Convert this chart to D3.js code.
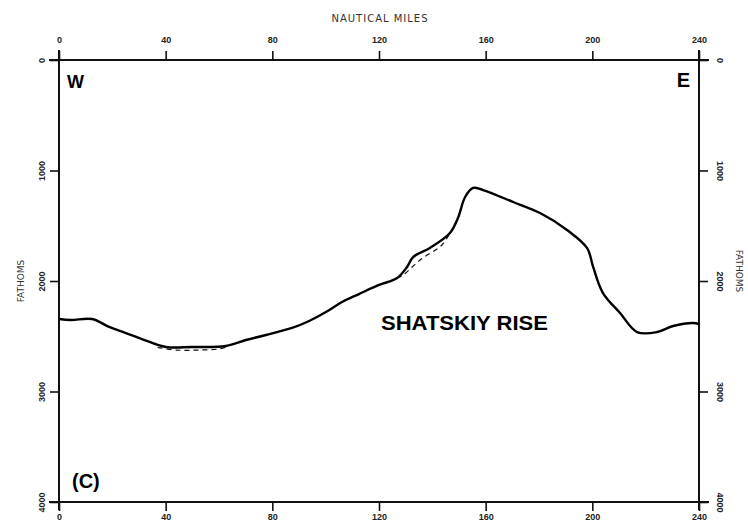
<!DOCTYPE html>
<html lang="en">

<head>
    <meta charset="UTF-8">
    <title>Shatskiy Rise profile</title>
    <style>
        body {
            margin: 0;
            padding: 0;
            background: #fff;
        }

        svg {
            display: block;
            font-family: 'DejaVu Sans', sans-serif;
        }
    </style>
</head>

<body>
    <script src="https://d3js.org/d3.v7.min.js"></script>
    <script>
        // distance along track (nautical miles) and depth (fathoms)
        const distance = [0, 4.5, 12.4, 18.8, 25.1, 31.1, 40.1, 49.9, 62.6, 70.1, 77.6, 87.4, 93.8, 100.1,
            106.1, 112.5, 120, 126.8, 130.5, 132.8, 139.1, 146.6, 149.6, 152.3, 155.3, 159, 170.3,
            180.4, 190.5, 198, 200.3, 204, 210.4, 216.8, 224.3, 230.3, 237.8, 240]
        const depth = [2344, 2353, 2344, 2416, 2471, 2525, 2597, 2597, 2588, 2534, 2489, 2425, 2362, 2281,
            2190, 2118, 2036, 1973, 1873, 1783, 1701, 1566, 1430, 1240, 1158, 1177, 1285,
            1385, 1538, 1701, 1873, 2109, 2290, 2462, 2462, 2407, 2380, 2389]

        // dashed alternate soundings
        const altDistance1 = [37, 44, 52, 60, 63]
        const altDepth1 = [2600, 2625, 2625, 2615, 2595]
        const altDistance2 = [126.8, 129, 135.4, 143.6, 146.6]
        const altDepth2 = [1973, 1946, 1810, 1674, 1566]

        const xTicks = [0, 40, 80, 120, 160, 200, 240]
        const yTicks = [0, 1000, 2000, 3000, 4000]

        const width = 748
        const height = 526
        const margin = { left: 59, right: 49, top: 60, bottom: 24 }

        const x = d3.scaleLinear()
            .domain([0, 240])
            .range([margin.left, width - margin.right])
        const y = d3.scaleLinear()
            .domain([0, 4000])
            .range([margin.top, height - margin.bottom])

        const svg = d3.select('body')
            .append('svg')
            .attr('width', width)
            .attr('height', height)

        function styleAxis(g) {
            g.select('.domain').remove()
            g.selectAll('.tick line')
                .attr('stroke', '#111')
                .attr('stroke-width', 1.6)
            g.selectAll('.tick text')
                .attr('fill', '#222')
                .attr('font-size', 9)
                .attr('font-weight', 'bold')
        }

        // frame lines, a bit past the corners like the original
        const frame = svg.append('g')
            .attr('stroke', '#111')
            .attr('stroke-width', 2)
        frame.append('line')
            .attr('x1', x(0) - 10).attr('x2', x(240) + 10)
            .attr('y1', y(0)).attr('y2', y(0))
        frame.append('line')
            .attr('x1', x(0) - 10).attr('x2', x(240) + 10)
            .attr('y1', y(4000)).attr('y2', y(4000))
        frame.append('line')
            .attr('x1', x(0)).attr('x2', x(0))
            .attr('y1', y(0) - 10).attr('y2', y(4000) + 8)
        frame.append('line')
            .attr('x1', x(240)).attr('x2', x(240))
            .attr('y1', y(0) - 10).attr('y2', y(4000) + 8)

        const fmt = d3.format('d')

        svg.append('g')
            .attr('transform', `translate(0,${y(0)})`)
            .call(d3.axisTop(x).tickValues(xTicks).tickFormat(fmt).tickSize(9).tickPadding(8))
            .call(styleAxis)

        svg.append('g')
            .attr('transform', `translate(0,${y(4000)})`)
            .call(d3.axisBottom(x).tickValues(xTicks).tickFormat(fmt).tickSize(9).tickPadding(3))
            .call(styleAxis)

        svg.append('g')
            .attr('transform', `translate(${x(0)},0)`)
            .call(d3.axisLeft(y).tickValues(yTicks).tickFormat(fmt).tickSize(9).tickPadding(4))
            .call(styleAxis)
            .call(g => g.selectAll('.tick text')
                .attr('text-anchor', 'middle')
                .attr('transform', 'translate(-17,0) rotate(-90)')
                .attr('x', 0).attr('dy', '0.35em'))

        svg.append('g')
            .attr('transform', `translate(${x(240)},0)`)
            .call(d3.axisRight(y).tickValues(yTicks).tickFormat(fmt).tickSize(9).tickPadding(4))
            .call(styleAxis)
            .call(g => g.selectAll('.tick text')
                .attr('text-anchor', 'middle')
                .attr('transform', 'translate(21,0) rotate(90)')
                .attr('x', 0).attr('dy', '0.35em'))

        // axis titles
        svg.append('text')
            .attr('x', 380).attr('y', 22)
            .attr('text-anchor', 'middle')
            .attr('font-size', 10)
            .attr('letter-spacing', 1)
            .attr('fill', '#333')
            .text('NAUTICAL MILES')

        svg.append('text')
            .attr('transform', `translate(24,${y(2000)}) rotate(-90)`)
            .attr('text-anchor', 'middle')
            .attr('font-size', 9)
            .attr('fill', '#333')
            .text('FATHOMS')

        svg.append('text')
            .attr('transform', `translate(736,${y(2000) - 10}) rotate(90)`)
            .attr('text-anchor', 'middle')
            .attr('font-size', 9)
            .attr('fill', '#333')
            .text('FATHOMS')

        // profile
        const line = d3.line()
            .x(d => x(d[0]))
            .y(d => y(d[1]))
            .curve(d3.curveCatmullRom.alpha(0.5))

        svg.append('path')
            .datum(d3.zip(distance, depth))
            .attr('d', line)
            .attr('fill', 'none')
            .attr('stroke', '#000')
            .attr('stroke-width', 2.4)

        const altLines = [d3.zip(altDistance1, altDepth1), d3.zip(altDistance2, altDepth2)]
        svg.selectAll('.alt')
            .data(altLines)
            .join('path')
            .attr('class', 'alt')
            .attr('d', line)
            .attr('fill', 'none')
            .attr('stroke', '#111')
            .attr('stroke-width', 1.2)
            .attr('stroke-dasharray', '5,4')

        // labels inside the plot
        const labels = svg.append('g')
            .attr('font-family', 'Liberation Sans, Arial, sans-serif')
            .attr('font-weight', 'bold')
            .attr('fill', '#000')
        labels.append('text')
            .attr('x', 67).attr('y', 88)
            .attr('font-size', 18)
            .text('W')
        labels.append('text')
            .attr('x', 690).attr('y', 87)
            .attr('text-anchor', 'end')
            .attr('font-size', 20)
            .text('E')
        labels.append('text')
            .attr('x', 72).attr('y', 488)
            .attr('font-size', 20)
            .text('(C)')
        labels.append('text')
            .attr('x', 381).attr('y', 330)
            .attr('font-size', 21)
            .attr('textLength', 167)
            .attr('lengthAdjust', 'spacingAndGlyphs')
            .text('SHATSKIY RISE')
    </script>
</body>

</html>
